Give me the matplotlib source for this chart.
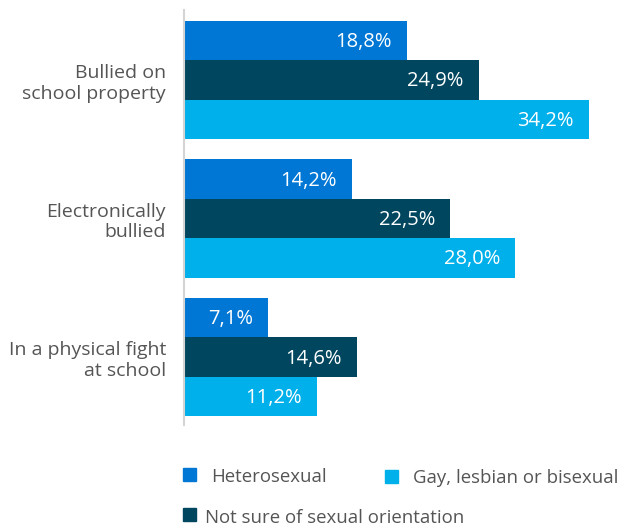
import numpy as np
import matplotlib
matplotlib.use("Agg")
import matplotlib.pyplot as plt
from matplotlib.patches import Rectangle

plt.rcParams['font.family'] = ['Open Sans', 'DejaVu Sans']

############################################
# DATA
############################################
categories = ["Bullied on\nschool property", "Electronically\nbullied", "In a physical fight\nat school"]
series_names = ["Heterosexual", "Not sure of sexual orientation", "Gay, lesbian or bisexual"]
hetero = [18.8, 14.2, 7.1]
not_sure = [24.9, 22.5, 14.6]
gay = [34.2, 28.0, 11.2]

colors = ["#0077d4", "#00465f", "#00b0ea"]
text_gray = "#555555"

############################################
# PLOT
############################################
fig = plt.figure(figsize=(6.25, 5.3), dpi=100)
ax = fig.add_axes([0.2944, 0.198, 0.7008, 0.783])

y = np.arange(len(categories))
h = 0.285
for i, (vals, col) in enumerate(zip([hetero, not_sure, gay], colors)):
    pos = y + (i - 1) * h
    ax.barh(pos, vals, height=h, color=col, edgecolor="none")
    for p, v in zip(pos, vals):
        ax.annotate(f"{v:.1f}%".replace(".", ","), xy=(v, p), xytext=(-11, -1),
                    textcoords="offset points", ha="right", va="center",
                    color="white", fontsize=14.5)

ax.set_xlim(0, 37)
ax.set_ylim(2.49, -0.505)
ax.set_yticks(y)
ax.set_yticklabels(categories, fontsize=14, color=text_gray, ha="right",
                   linespacing=1.2)
ax.tick_params(axis="y", length=0, pad=13)
ax.set_xticks([])
for s in ["top", "right", "bottom"]:
    ax.spines[s].set_visible(False)
ax.spines["left"].set_color("#d4d4d4")
ax.spines["left"].set_linewidth(1.5)

############################################
# LEGEND (manual layout)
############################################
W, H = 625, 530
legend_items = [
    (0, 183, 468, 211, 477),
    (2, 385, 470, 413, 478),
    (1, 183, 508, 205, 518),
]
for idx, sx, sy, tx, ty in legend_items:
    fig.patches.append(Rectangle((sx / W, 1 - (sy + 13) / H), 13 / W, 13 / H,
                                 transform=fig.transFigure, color=colors[idx]))
    fig.text(tx / W, 1 - ty / H, series_names[idx], fontsize=13.4,
             color=text_gray, va="center", ha="left")

plt.savefig("out.png", dpi=100)
plt.close()
